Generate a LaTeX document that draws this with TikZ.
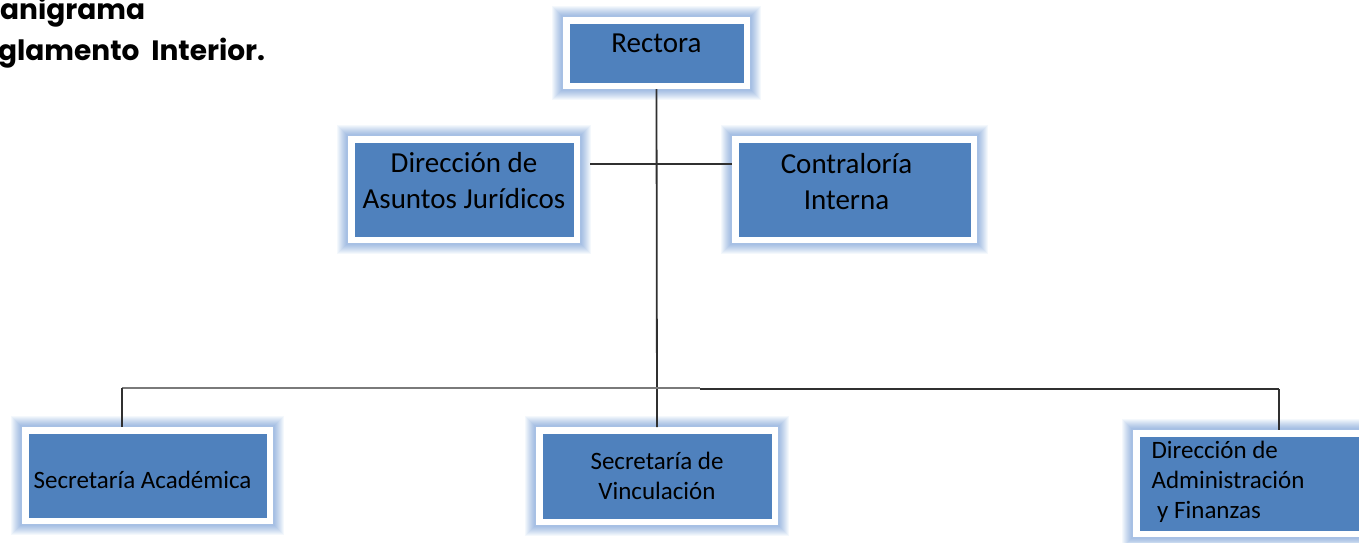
\documentclass[tikz,border=0pt]{standalone}
\usepackage{fontspec}
\setmainfont{Carlito}
\newfontfamily\titlefont{Poppins}[UprightFont=* Bold]
\definecolor{boxblue}{HTML}{4F81BD}
\definecolor{glowblue}{HTML}{7FA6DA}
\definecolor{linedark}{HTML}{303030}
\definecolor{linegray}{HTML}{7A7A7A}
\begin{document}
\begin{tikzpicture}[x=1pt,y=-1pt,
  orgbox/.style={rectangle, fill=boxblue, draw=white, line width=6.5pt, inner sep=0pt,
    preaction={draw=glowblue, line width=28pt, opacity=0.08},
    preaction={draw=glowblue, line width=26pt, opacity=0.08},
    preaction={draw=glowblue, line width=24pt, opacity=0.09},
    preaction={draw=glowblue, line width=22pt, opacity=0.09},
    preaction={draw=glowblue, line width=20pt, opacity=0.1},
    preaction={draw=glowblue, line width=18pt, opacity=0.1},
    preaction={draw=glowblue, line width=16pt, opacity=0.11},
    preaction={draw=glowblue, line width=14pt, opacity=0.12},
    preaction={draw=glowblue, line width=12pt, opacity=0.13},
    preaction={draw=glowblue, line width=10pt, opacity=0.14}},
  bigtxt/.style={font=\fontsize{29}{36}\selectfont, align=center, text=black},
  smalltxt/.style={font=\fontsize{25}{30}\selectfont, align=center, text=black},
  conn/.style={draw=linedark, line width=1.8pt},
  conngray/.style={draw=linegray, line width=1.8pt}]
\useasboundingbox (0,0) rectangle (1359,542);
\fill[white] (0,0) rectangle (1359,542);

% title
\node[anchor=base west, inner sep=0pt, font=\titlefont\fontsize{28}{30}\selectfont] (t1) at (0,19) {anigrama};
\node[anchor=base west, inner sep=0pt, font=\titlefont\fontsize{28}{30}\selectfont] (t2) at (-2,60) {glamento\ \ Interior.};

% boxes
\node[orgbox, minimum width=180.5pt, minimum height=65.5pt,
  label={[bigtxt, yshift=10pt]center:Rectora}] (rect) at (656.5,53) {};
\node[orgbox, minimum width=225.5pt, minimum height=100.5pt,
  label={[bigtxt, yshift=9pt]center:Dirección de\\Asuntos Jurídicos}] (dir) at (464,189.5) {};
\node[orgbox, minimum width=238.5pt, minimum height=100.5pt,
  label={[bigtxt, yshift=8pt, xshift=-8pt]center:Contraloría\\Interna}] (con) at (854.5,189.5) {};
\node[orgbox, minimum width=244.5pt, minimum height=90.5pt,
  label={[smalltxt, yshift=-4.5pt, xshift=-5pt]center:Secretaría Académica}] (sa) at (147.5,475.5) {};
\node[orgbox, minimum width=235.5pt, minimum height=91.5pt,
  label={[smalltxt, yshift=0pt]center:Secretaría de\\Vinculación}] (sv) at (657,476) {};
\node[orgbox, minimum width=240.5pt, minimum height=100.5pt,
  label={[smalltxt, align=left, anchor=west, xshift=15pt, yshift=1.5pt]west:Dirección de\\Administración\\\ y Finanzas}] (da) at (1256.5,483.5) {};

% connectors
\coordinate (busL) at (122,388);
\coordinate (busM) at (700,388);
\coordinate (busR) at (1279,389);
\draw[conn] (rect.south) -- (sv.north);
\draw[conn] ([xshift=10pt, yshift=25.5pt]dir.east) -- ([yshift=25.5pt]con.west);
\draw[conngray] (busL) -- (busM);
\draw[conn] (busM |- busR) -- (busR);
\draw[conn] (busL) -- (sa.north -| busL);
\draw[conn] (busR) -- (da.north -| busR);
\end{tikzpicture}
\end{document}
